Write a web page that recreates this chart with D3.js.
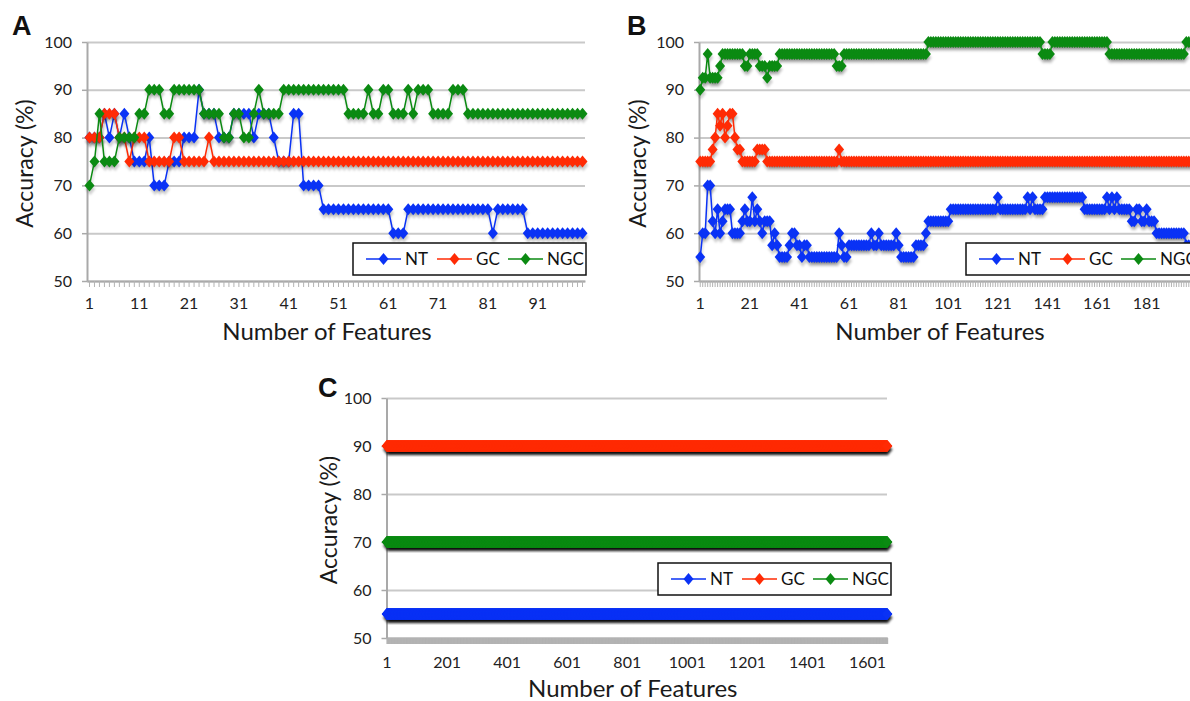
<!DOCTYPE html>
<html>
<head>
<meta charset="utf-8">
<script src="https://cdn.jsdelivr.net/npm/d3@7"></script>
<style>
  body { margin: 0; background: #fff; }
  svg { display: block; font-family: Lato, "Open Sans", sans-serif; }
</style>
</head>
<body>
<svg id="fig"></svg>
<script>
// Series and colours
const SERIES = ["NT", "GC", "NGC"];
const COLORS = ["#0a32f5", "#ff2b05", "#0b8a12"];
const Y_TICKS = [50, 60, 70, 80, 90, 100];

// Panel A: 100 features
const NT_A = [
  80, 80, 80, 85, 80, 85, 80, 85, 80, 75, 75, 75, 80, 70, 70, 70, 75, 75, 75, 80,
  80, 80, 90, 85, 85, 85, 80, 80, 80, 85, 85, 85, 85, 80, 85, 85, 85, 80, 75, 75,
  75, 85, 85, 70, 70, 70, 70, 65, 65, 65, 65, 65, 65, 65, 65, 65, 65, 65, 65, 65,
  65, 60, 60, 60, 65, 65, 65, 65, 65, 65, 65, 65, 65, 65, 65, 65, 65, 65, 65, 65,
  65, 60, 65, 65, 65, 65, 65, 65, 60, 60, 60, 60, 60, 60, 60, 60, 60, 60, 60, 60
];
const GC_A = [
  80, 80, 80, 85, 85, 85, 80, 80, 75, 80, 80, 80, 75, 75, 75, 75, 75, 80, 80, 75,
  75, 75, 75, 75, 80, 75, 75, 75, 75, 75, 75, 75, 75, 75, 75, 75, 75, 75, 75, 75,
  75, 75, 75, 75, 75, 75, 75, 75, 75, 75, 75, 75, 75, 75, 75, 75, 75, 75, 75, 75,
  75, 75, 75, 75, 75, 75, 75, 75, 75, 75, 75, 75, 75, 75, 75, 75, 75, 75, 75, 75,
  75, 75, 75, 75, 75, 75, 75, 75, 75, 75, 75, 75, 75, 75, 75, 75, 75, 75, 75, 75
];
const NGC_A = [
  70, 75, 85, 75, 75, 75, 80, 80, 80, 80, 85, 85, 90, 90, 90, 85, 85, 90, 90, 90,
  90, 90, 90, 85, 85, 85, 85, 80, 80, 85, 85, 80, 80, 85, 90, 85, 85, 85, 85, 90,
  90, 90, 90, 90, 90, 90, 90, 90, 90, 90, 90, 90, 85, 85, 85, 85, 90, 85, 85, 90,
  90, 85, 85, 85, 90, 85, 90, 90, 90, 85, 85, 85, 85, 90, 90, 90, 85, 85, 85, 85,
  85, 85, 85, 85, 85, 85, 85, 85, 85, 85, 85, 85, 85, 85, 85, 85, 85, 85, 85, 85
];

// Panel B: 200 features
const NT_B = [
  55, 60, 60, 70, 70, 62.5, 60, 65, 60, 62.5, 65, 65, 65, 60, 60, 60, 60, 62.5, 65, 62.5,
  62.5, 67.5, 62.5, 65, 62.5, 60, 62.5, 62.5, 62.5, 57.5, 60, 57.5, 55, 55, 55, 55, 57.5, 60, 60, 57.5,
  57.5, 55, 57.5, 57.5, 55, 55, 55, 55, 55, 55, 55, 55, 55, 55, 55, 55, 60, 57.5, 55, 55,
  57.5, 57.5, 57.5, 57.5, 57.5, 57.5, 57.5, 57.5, 57.5, 60, 57.5, 57.5, 60, 57.5, 57.5, 57.5, 57.5, 57.5, 57.5, 60,
  57.5, 55, 55, 55, 55, 55, 55, 57.5, 57.5, 57.5, 57.5, 60, 62.5, 62.5, 62.5, 62.5, 62.5, 62.5, 62.5, 62.5,
  62.5, 65, 65, 65, 65, 65, 65, 65, 65, 65, 65, 65, 65, 65, 65, 65, 65, 65, 65, 65,
  67.5, 65, 65, 65, 65, 65, 65, 65, 65, 65, 65, 65, 67.5, 65, 67.5, 65, 65, 65, 65, 67.5,
  67.5, 67.5, 67.5, 67.5, 67.5, 67.5, 67.5, 67.5, 67.5, 67.5, 67.5, 67.5, 67.5, 67.5, 67.5, 65, 65, 65, 65, 65,
  65, 65, 65, 65, 67.5, 65, 67.5, 65, 67.5, 65, 65, 65, 65, 65, 62.5, 62.5, 65, 65, 62.5, 62.5,
  65, 62.5, 62.5, 62.5, 60, 60, 60, 60, 60, 60, 60, 60, 60, 60, 60, 60, 57.5, 57.5, 57.5, 57.5
];
const GC_B = [
  75, 75, 75, 75, 75, 77.5, 80, 85, 82.5, 85, 80, 82.5, 85, 85, 80, 77.5, 77.5, 75, 75, 75,
  75, 75, 75, 77.5, 77.5, 77.5, 77.5, 75, 75, 75, 75, 75, 75, 75, 75, 75, 75, 75, 75, 75,
  75, 75, 75, 75, 75, 75, 75, 75, 75, 75, 75, 75, 75, 75, 75, 75, 77.5, 75, 75, 75,
  75, 75, 75, 75, 75, 75, 75, 75, 75, 75, 75, 75, 75, 75, 75, 75, 75, 75, 75, 75,
  75, 75, 75, 75, 75, 75, 75, 75, 75, 75, 75, 75, 75, 75, 75, 75, 75, 75, 75, 75,
  75, 75, 75, 75, 75, 75, 75, 75, 75, 75, 75, 75, 75, 75, 75, 75, 75, 75, 75, 75,
  75, 75, 75, 75, 75, 75, 75, 75, 75, 75, 75, 75, 75, 75, 75, 75, 75, 75, 75, 75,
  75, 75, 75, 75, 75, 75, 75, 75, 75, 75, 75, 75, 75, 75, 75, 75, 75, 75, 75, 75,
  75, 75, 75, 75, 75, 75, 75, 75, 75, 75, 75, 75, 75, 75, 75, 75, 75, 75, 75, 75,
  75, 75, 75, 75, 75, 75, 75, 75, 75, 75, 75, 75, 75, 75, 75, 75, 75, 75, 75, 75
];
const NGC_B = [
  90, 92.5, 92.5, 97.5, 92.5, 92.5, 92.5, 92.5, 95, 97.5, 97.5, 97.5, 97.5, 97.5, 97.5, 97.5, 97.5, 97.5, 95, 95,
  97.5, 97.5, 97.5, 97.5, 95, 95, 95, 92.5, 95, 95, 95, 95, 97.5, 97.5, 97.5, 97.5, 97.5, 97.5, 97.5, 97.5,
  97.5, 97.5, 97.5, 97.5, 97.5, 97.5, 97.5, 97.5, 97.5, 97.5, 97.5, 97.5, 97.5, 97.5, 97.5, 95, 95, 95, 97.5, 97.5,
  97.5, 97.5, 97.5, 97.5, 97.5, 97.5, 97.5, 97.5, 97.5, 97.5, 97.5, 97.5, 97.5, 97.5, 97.5, 97.5, 97.5, 97.5, 97.5, 97.5,
  97.5, 97.5, 97.5, 97.5, 97.5, 97.5, 97.5, 97.5, 97.5, 97.5, 97.5, 97.5, 100, 100, 100, 100, 100, 100, 100, 100,
  100, 100, 100, 100, 100, 100, 100, 100, 100, 100, 100, 100, 100, 100, 100, 100, 100, 100, 100, 100,
  100, 100, 100, 100, 100, 100, 100, 100, 100, 100, 100, 100, 100, 100, 100, 100, 100, 100, 97.5, 97.5,
  97.5, 97.5, 100, 100, 100, 100, 100, 100, 100, 100, 100, 100, 100, 100, 100, 100, 100, 100, 100, 100,
  100, 100, 100, 100, 100, 97.5, 97.5, 97.5, 97.5, 97.5, 97.5, 97.5, 97.5, 97.5, 97.5, 97.5, 97.5, 97.5, 97.5, 97.5,
  97.5, 97.5, 97.5, 97.5, 97.5, 97.5, 97.5, 97.5, 97.5, 97.5, 97.5, 97.5, 97.5, 97.5, 97.5, 97.5, 100, 100, 100, 100
];

// Panel C: flat lines over ~1668 features (NT, GC, NGC)
const FEATURES_C = 1668;
const LEVELS_C = [55, 90, 70];

// x tick labels
const LABELS_A = [1, 11, 21, 31, 41, 51, 61, 71, 81, 91];
const LABELS_B = [1, 21, 41, 61, 81, 101, 121, 141, 161, 181];
const LABELS_C = [1, 201, 401, 601, 801, 1001, 1201, 1401, 1601];

const W = 1190, H = 701;
const svg = d3.select("#fig").attr("width", W).attr("height", H);

const diamond = "M0,-6L5,0L0,6L-5,0Z";

// drop shadow blur
svg.append("defs").append("filter").attr("id", "soft")
  .attr("x", "-5%").attr("y", "-5%").attr("width", "110%").attr("height", "110%")
  .append("feGaussianBlur").attr("stdDeviation", 0.8);

function panel(cfg) {
  const n = cfg.series[0].length;
  const x = d3.scaleBand().domain(d3.range(1, n + 1)).range([cfg.left, cfg.right]);
  const y = d3.scaleLinear().domain([50, 100]).range([cfg.bottom, cfg.top]);
  const cx = i => x(i) + x.bandwidth() / 2;
  const g = svg.append("g");

  // gridlines
  g.append("g").attr("transform", `translate(${cfg.left},0)`)
    .call(d3.axisLeft(y).tickValues(Y_TICKS).tickSize(-(cfg.gridRight - cfg.left)).tickFormat(""))
    .call(s => s.select(".domain").remove())
    .call(s => s.selectAll("line").attr("stroke", "#c9c9c9").attr("stroke-width", 2));

  // x axis: every category gets a tick
  g.append("g").attr("transform", `translate(0,${cfg.bottom})`)
    .call(d3.axisBottom(x).tickSize(6).tickSizeOuter(0).tickFormat(""))
    .call(s => s.select(".domain").attr("stroke", "#a9a9a9").attr("stroke-width", 2))
    .call(s => s.selectAll(".tick line").attr("stroke", "#b3b3b3").attr("stroke-width", 1));

  // x labels
  g.append("g").attr("transform", `translate(0,${cfg.bottom})`)
    .call(d3.axisBottom(x).tickValues(cfg.labels).tickSize(0).tickPadding(cfg.labelPad))
    .call(s => s.select(".domain").remove())
    .call(s => s.selectAll("text").attr("font-size", 16).attr("fill", "#222")
      .attr("font-family", "Lato, sans-serif"));

  // y axis
  g.append("g").attr("transform", `translate(${cfg.left},0)`)
    .call(d3.axisLeft(y).tickValues(Y_TICKS).tickSize(5).tickSizeOuter(0).tickPadding(10))
    .call(s => s.select(".domain").attr("stroke", "#a9a9a9").attr("stroke-width", 2))
    .call(s => s.selectAll(".tick line").attr("stroke", "#a9a9a9").attr("stroke-width", 1.5))
    .call(s => s.selectAll("text").attr("font-size", 16).attr("fill", "#222")
      .attr("font-family", "Lato, sans-serif"));

  // series
  const line = d3.line().x((d, i) => cx(i + 1)).y(d => y(d));
  cfg.series.forEach((vals, k) => {
    const sh = g.append("g").attr("transform", "translate(0.8,3.8)").attr("filter", "url(#soft)");
    sh.append("path").attr("d", line(vals)).attr("fill", "none")
      .attr("stroke", "#000").attr("stroke-opacity", 0.18).attr("stroke-width", 1.5);
    sh.selectAll("path.s").data(vals).join("path").attr("class", "s")
      .attr("d", diamond).attr("transform", (d, i) => `translate(${cx(i + 1)},${y(d)})`)
      .attr("fill", "#000").attr("fill-opacity", 0.18);

    const sg = g.append("g");
    sg.append("path").attr("d", line(vals)).attr("fill", "none")
      .attr("stroke", COLORS[k]).attr("stroke-width", 1.5);
    sg.selectAll("path.m").data(vals).join("path").attr("class", "m")
      .attr("d", diamond).attr("transform", (d, i) => `translate(${cx(i + 1)},${y(d)})`)
      .attr("fill", COLORS[k]);
  });

  // legend
  const lg = g.append("g").attr("transform", `translate(${cfg.legend[0]},${cfg.legend[1]})`);
  lg.append("rect").attr("width", 233).attr("height", 32)
    .attr("fill", "#fff").attr("stroke", "#111").attr("stroke-width", 1.5);
  const item = lg.selectAll("g.item").data(SERIES).join("g").attr("class", "item")
    .attr("transform", (d, i) => `translate(${13 + i * 71},16)`);
  item.append("line").attr("x1", 0).attr("x2", 35).attr("stroke", (d, i) => COLORS[i]).attr("stroke-width", 1.5);
  item.append("path").attr("d", diamond).attr("transform", "translate(17.5,0)").attr("fill", (d, i) => COLORS[i]);
  item.append("text").attr("x", 39).attr("dy", "0.36em").attr("font-size", 17).attr("fill", "#111")
    .text(d => d);

  // axis titles
  g.append("text").attr("x", (cfg.left + cfg.gridRight) / 2 - cfg.titleShift).attr("y", cfg.bottom + 59)
    .attr("text-anchor", "middle").attr("font-size", 24).attr("fill", "#1a1a1a")
    .text("Number of Features");
  g.append("text").attr("transform", `translate(${cfg.yTitleX},${(cfg.top + cfg.bottom) / 2 + 2}) rotate(-90)`)
    .attr("text-anchor", "middle").attr("dy", "0.35em").attr("font-size", 23).attr("fill", "#1a1a1a")
    .text("Accuracy (%)");

  // panel letter
  g.append("text").attr("x", cfg.letterPos[0]).attr("y", cfg.letterPos[1])
    .attr("font-size", 27).attr("font-weight", "bold").attr("fill", "#111")
    .attr("font-family", "'Liberation Sans', Arial, sans-serif")
    .text(cfg.letter);
}

panel({
  letter: "A", letterPos: [12, 35],
  series: [NT_A, GC_A, NGC_A], labels: LABELS_A,
  left: 87, right: 585, gridRight: 585, top: 42, bottom: 281, labelPad: 17,
  legend: [353, 243], yTitleX: 25, titleShift: 9
});

panel({
  letter: "B", letterPos: [627, 35],
  series: [NT_B, GC_B, NGC_B], labels: LABELS_B,
  left: 699, right: 1195, gridRight: 1195, top: 42, bottom: 281, labelPad: 17,
  legend: [966, 243], yTitleX: 638, titleShift: 7
});

const seriesC = LEVELS_C.map(v => d3.range(FEATURES_C).map(() => v));
panel({
  letter: "C", letterPos: [318, 397],
  series: seriesC, labels: LABELS_C,
  left: 386.5, right: 887.5, gridRight: 887, top: 398, bottom: 638, labelPad: 19,
  legend: [658, 563], yTitleX: 329, titleShift: 4
});
</script>
</body>
</html>
